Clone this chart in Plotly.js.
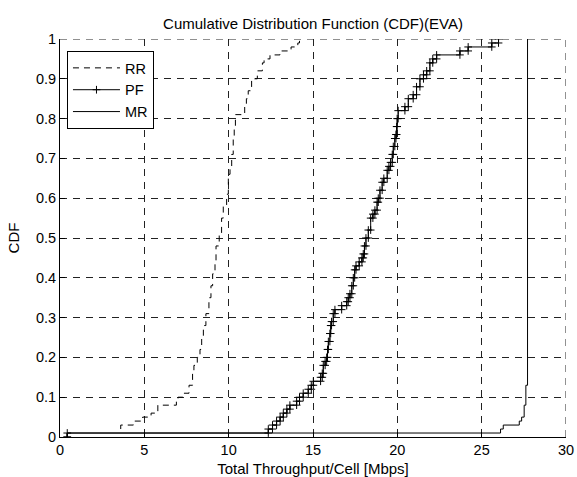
<!DOCTYPE html>
<html>
<head>
<meta charset="utf-8">
<script src="https://cdn.plot.ly/plotly-3.0.1.min.js"></script>
<style>html,body{margin:0;padding:0;background:#fff;}#chart{width:577px;height:477px;}</style>
</head>
<body>
<div id="chart"></div>
<script>
// Step points of each empirical CDF: throughput (Mbps) where the step happens, CDF level after the step
const rrX = [3.6, 3.6, 4.35, 4.9, 5.4, 5.8, 6.9, 7.0, 7.35, 7.65, 7.86, 7.94, 8.14, 8.30, 8.40, 8.50, 8.65, 8.83, 8.95, 9.05, 9.19, 9.25, 9.44, 9.58, 9.68, 9.88, 9.98, 10.08, 10.18, 10.27, 10.33, 10.40, 10.95, 11.05, 11.16, 11.36, 11.70, 12.0, 12.1, 12.45, 13.04, 13.7, 14.1, 14.2];
const rrY = [0.02, 0.03, 0.04, 0.05, 0.06, 0.08, 0.09, 0.10, 0.11, 0.13, 0.16, 0.18, 0.20, 0.22, 0.25, 0.28, 0.31, 0.35, 0.38, 0.41, 0.44, 0.48, 0.51, 0.55, 0.58, 0.61, 0.66, 0.68, 0.71, 0.75, 0.78, 0.81, 0.83, 0.85, 0.87, 0.90, 0.92, 0.94, 0.95, 0.96, 0.97, 0.98, 0.99, 1.00];

const pfX = [0.43, 0.43, 12.35, 12.6, 12.84, 13.05, 13.24, 13.45, 13.63, 14.03, 14.2, 14.42, 14.72, 14.9, 15.02, 15.45, 15.55, 15.61, 15.72, 15.81, 15.86, 15.91, 16.0, 16.05, 16.1, 16.2, 16.3, 16.7, 17.0, 17.09, 17.19, 17.3, 17.39, 17.47, 17.55, 17.74, 17.9, 17.98, 18.05, 18.14, 18.28, 18.42, 18.55, 18.67, 18.80, 18.87, 18.97, 19.10, 19.2, 19.40, 19.5, 19.6, 19.7, 19.76, 19.85, 19.92, 19.96, 19.99, 20.05, 20.45, 20.65, 20.94, 21.14, 21.34, 21.55, 21.74, 21.93, 22.1, 22.33, 23.71, 24.2, 25.6, 26.0];
const pfY = [0.00, 0.01, 0.02, 0.03, 0.04, 0.05, 0.06, 0.07, 0.08, 0.09, 0.10, 0.11, 0.12, 0.13, 0.14, 0.15, 0.16, 0.18, 0.19, 0.20, 0.22, 0.24, 0.26, 0.28, 0.29, 0.31, 0.32, 0.33, 0.34, 0.35, 0.36, 0.38, 0.40, 0.42, 0.43, 0.44, 0.45, 0.46, 0.48, 0.50, 0.52, 0.55, 0.56, 0.57, 0.59, 0.60, 0.62, 0.64, 0.65, 0.67, 0.68, 0.69, 0.71, 0.73, 0.75, 0.76, 0.78, 0.80, 0.82, 0.83, 0.85, 0.86, 0.88, 0.90, 0.91, 0.92, 0.94, 0.95, 0.96, 0.97, 0.98, 0.99, 1.00];

const mrX = [0.43, 0.43, 26.12, 26.28, 27.23, 27.37, 27.52, 27.62, 27.72];
const mrY = [0.00, 0.01, 0.02, 0.03, 0.04, 0.05, 0.08, 0.13, 1.00];

const seriesNames = ["RR", "PF", "MR"];
const xTickVals = [0, 5, 10, 15, 20, 25, 30];
const yTickVals = [0, 0.1, 0.2, 0.3, 0.4, 0.5, 0.6, 0.7, 0.8, 0.9, 1];

// turn step points into stair vertices (as MATLAB's stairs/cdfplot does)
function stairs(xs, ys) {
  const sx = [], sy = [];
  for (let i = 0; i < xs.length; i++) {
    if (i > 0) { sx.push(xs[i]); sy.push(ys[i - 1]); }
    sx.push(xs[i]); sy.push(ys[i]);
  }
  return { x: sx, y: sy };
}

const rr = stairs(rrX, rrY), pf = stairs(pfX, pfY), mr = stairs(mrX, mrY);
const FONT = "Liberation Sans, Arial, sans-serif";
const GRID_COLOR = "#222", GRID_DASH = "7px,6px";

const traces = [
  { x: rr.x, y: rr.y, name: seriesNames[0], type: "scatter", mode: "lines",
    line: { color: "#000", width: 1, dash: "6px,5px" } },
  { x: pf.x, y: pf.y, name: seriesNames[1], type: "scatter", mode: "lines+markers",
    line: { color: "#000", width: 1 },
    marker: { symbol: "cross-thin", size: 5.5, color: "#000", line: { color: "#000", width: 1 } } },
  { x: mr.x, y: mr.y, name: seriesNames[2], type: "scatter", mode: "lines",
    line: { color: "#000", width: 1 } }
];

const axisCommon = {
  showline: true, linecolor: "#000", linewidth: 1, mirror: false,
  ticks: "inside", ticklen: 5, tickcolor: "#000", tickwidth: 1,
  showgrid: true, gridcolor: GRID_COLOR, gridwidth: 1, griddash: GRID_DASH,
  zeroline: false, tickfont: { family: FONT, size: 14.5, color: "#000" }
};

const xMin = xTickVals[0], xMax = xTickVals[xTickVals.length - 1];
const yMin = yTickVals[0], yMax = yTickVals[yTickVals.length - 1];

const layout = {
  width: 577, height: 477,
  margin: { l: 60, r: 11, t: 39, b: 40, pad: 0 },
  paper_bgcolor: "#fff", plot_bgcolor: "#fff",
  font: { family: FONT, size: 14.5, color: "#000" },
  title: { text: "Cumulative Distribution Function (CDF)(EVA)", font: { family: FONT, size: 15, color: "#000" },
           x: 0.5, xref: "paper", xanchor: "center", y: 0.951, yref: "container", yanchor: "middle" },
  xaxis: Object.assign({}, axisCommon, {
    range: [xMin, xMax], tickvals: xTickVals,
    title: { text: "Total Throughput/Cell [Mbps]", font: { family: FONT, size: 15, color: "#000" }, standoff: 7 }
  }),
  yaxis: Object.assign({}, axisCommon, {
    range: [yMin, yMax], tickvals: yTickVals,
    title: { text: "CDF", font: { family: FONT, size: 15, color: "#000" }, standoff: 12 }
  }),
  // grid lines at the top and right edges (Plotly omits grid lines on the plot border)
  shapes: [
    { type: "line", xref: "x", yref: "y", x0: xMin, x1: xMax, y0: yMax, y1: yMax,
      line: { color: GRID_COLOR, width: 1, dash: GRID_DASH }, layer: "below" },
    { type: "line", xref: "x", yref: "y", x0: xMax, x1: xMax, y0: yMin, y1: yMax,
      line: { color: GRID_COLOR, width: 1, dash: GRID_DASH }, layer: "below" }
  ],
  showlegend: true,
  legend: {
    x: 0.0138, y: 0.97, xanchor: "left", yanchor: "top",
    bgcolor: "#fff", bordercolor: "#000", borderwidth: 1,
    font: { family: FONT, size: 14.5, color: "#000" },
    itemwidth: 47
  }
};

Plotly.newPlot("chart", traces, layout, { staticPlot: true, displayModeBar: false });
</script>
</body>
</html>
